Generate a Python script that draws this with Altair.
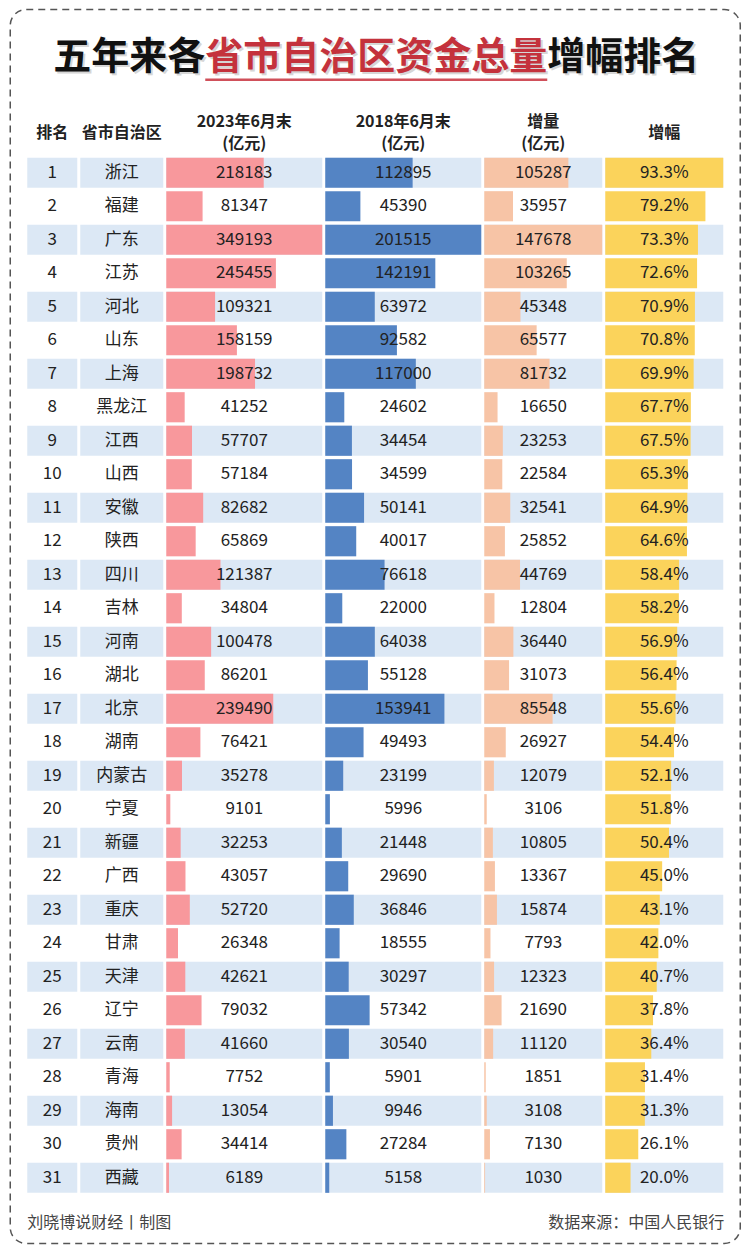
import altair as alt
import pandas as pd

# ---------------- data ----------------
ranks = list(range(1, 32))
provinces = ["浙江", "福建", "广东", "江苏", "河北", "山东", "上海", "黑龙江", "江西", "山西",
             "安徽", "陕西", "四川", "吉林", "河南", "湖北", "北京", "湖南", "内蒙古", "宁夏",
             "新疆", "广西", "重庆", "甘肃", "天津", "辽宁", "云南", "青海", "海南", "贵州", "西藏"]
v2023 = [218183, 81347, 349193, 245455, 109321, 158159, 198732, 41252, 57707, 57184,
         82682, 65869, 121387, 34804, 100478, 86201, 239490, 76421, 35278, 9101,
         32253, 43057, 52720, 26348, 42621, 79032, 41660, 7752, 13054, 34414, 6189]
v2018 = [112895, 45390, 201515, 142191, 63972, 92582, 117000, 24602, 34454, 34599,
         50141, 40017, 76618, 22000, 64038, 55128, 153941, 49493, 23199, 5996,
         21448, 29690, 36846, 18555, 30297, 57342, 30540, 5901, 9946, 27284, 5158]
increase = [105287, 35957, 147678, 103265, 45348, 65577, 81732, 16650, 23253, 22584,
            32541, 25852, 44769, 12804, 36440, 31073, 85548, 26927, 12079, 3106,
            10805, 13367, 15874, 7793, 12323, 21690, 11120, 1851, 3108, 7130, 1030]
growth = [93.3, 79.2, 73.3, 72.6, 70.9, 70.8, 69.9, 67.7, 67.5, 65.3,
          64.9, 64.6, 58.4, 58.2, 56.9, 56.4, 55.6, 54.4, 52.1, 51.8,
          50.4, 45.0, 43.1, 42.0, 40.7, 37.8, 36.4, 31.4, 31.3, 26.1, 20.0]

title_parts = ["五年来各", "省市自治区资金总量", "增幅排名"]
headers = [["排名"], ["省市自治区"], ["2023年6月末", "(亿元)"], ["2018年6月末", "(亿元)"],
           ["增量", "(亿元)"], ["增幅"]]
footer_left = "刘晓博说财经丨制图"
footer_right = "数据来源：中国人民银行"

df = pd.DataFrame({"rank": ranks, "province": provinces, "v2023": v2023,
                   "v2018": v2018, "increase": increase, "growth": growth})
one = pd.DataFrame({"k": [0]})

# ---------------- styles ----------------
FONT = "Noto Sans CJK SC"
BG = "#dce8f5"
TXT = "#222222"
ROWS_H = 1038.5

y_enc = alt.Y("rank:O", axis=None,
              scale=alt.Scale(domain=ranks, paddingInner=0.1, paddingOuter=0.05))


def header_layers(width, lines):
    ys = [-23.5] if len(lines) == 1 else [-34, -12.5]
    return [alt.Chart(one).mark_text(font=FONT, fontSize=16, fontWeight="bold", color=TXT,
                                     align="center", baseline="middle").encode(
        x=alt.value(width / 2), y=alt.value(y), text=alt.value(t))
        for t, y in zip(lines, ys)]


def column(width, lines, text_field, bar_field=None, color=None, label_expr=None, extra=()):
    base = alt.Chart(df)
    layers = list(extra)
    layers.append(
        base.transform_filter("datum.rank % 2 == 1").mark_rect(color=BG).encode(
            x=alt.value(0), x2=alt.value(width), y=y_enc))
    if bar_field is not None:
        layers.append(base.mark_bar(color=color).encode(
            x=alt.X(f"{bar_field}:Q", axis=None,
                    scale=alt.Scale(domain=[0, max(df[bar_field])], nice=False)),
            y=y_enc))
    txt = base
    if label_expr is not None:
        txt = txt.transform_calculate(label=label_expr)
        text_field = "label"
    layers.append(txt.mark_text(font=FONT, fontSize=17, color=TXT,
                                align="center", baseline="middle").encode(
        x=alt.value(width / 2), y=y_enc, text=alt.Text(f"{text_field}:N")))
    layers += header_layers(width, lines)
    return alt.layer(*layers).properties(width=width, height=ROWS_H)


# ---------------- title, border, footer (drawn around the first column) ----------------
FS = 38
x0 = 26
x1 = x0 + FS * len(title_parts[0])
x2 = x1 + FS * len(title_parts[1])
TY = -98.3
RED = "#c4323c"

border = alt.Chart(one).mark_rect(fillOpacity=0, stroke="#555555", strokeWidth=1.5,
                                  strokeDash=[7, 5], cornerRadius=16).encode(
    x=alt.value(-17), x2=alt.value(713), y=alt.value(-146.5), y2=alt.value(1087.5))


def tpart(text, x, align, color, shadow=False):
    return alt.Chart(one).mark_text(font=FONT, fontSize=FS, fontWeight="bold",
                                    color=("#bbbbbb" if shadow else color),
                                    opacity=(0.6 if shadow else 1),
                                    align=align, baseline="middle",
                                    dx=(2 if shadow else 0), dy=(2 if shadow else 0)).encode(
        x=alt.value(x), y=alt.value(TY), text=alt.value(text))


deco = [border]
for shadow in (True, False):
    deco += [tpart(title_parts[0], x1, "right", "#111111", shadow),
             tpart(title_parts[1], x1, "left", RED, shadow),
             tpart(title_parts[2], x2, "left", "#111111", shadow)]
deco.append(alt.Chart(one).mark_rule(color="#d0505a", strokeWidth=2.5).encode(
    x=alt.value(x1), x2=alt.value(x2), y=alt.value(-76.3)))
deco.append(alt.Chart(one).mark_text(font=FONT, fontSize=16, color="#444444", align="left",
                                     baseline="middle").encode(
    x=alt.value(0), y=alt.value(1066.7), text=alt.value(footer_left)))
deco.append(alt.Chart(one).mark_text(font=FONT, fontSize=16, color="#444444", align="right",
                                     baseline="middle").encode(
    x=alt.value(697), y=alt.value(1066.7), text=alt.value(footer_right)))

cols = [
    column(50, headers[0], "rank", extra=deco),
    column(83, headers[1], "province"),
    column(156, headers[2], "v2023", "v2023", "#f8989c"),
    column(156, headers[3], "v2018", "v2018", "#5484c4"),
    column(118, headers[4], "increase", "increase", "#f7c4a6"),
    column(118, headers[5], "growth", "growth", "#fbd35b",
           label_expr="format(datum.growth, '.1f') + '%'"),
]

chart = alt.HConcatChart(hconcat=cols, spacing=3, bounds="flush").properties(
    padding={"left": 1.25, "top": 0, "right": 0, "bottom": 0}, background="white"
).configure_view(strokeWidth=0)

chart.save("out.html", embed_options={"renderer": "svg", "actions": False})
